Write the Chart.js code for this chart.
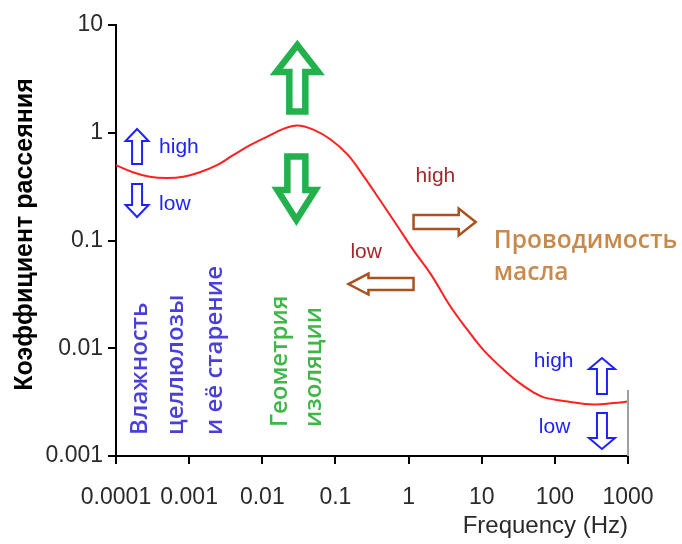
<!DOCTYPE html>
<html>
<head>
<meta charset="utf-8">
<script src="https://cdn.jsdelivr.net/npm/chart.js@4.4.1/dist/chart.umd.min.js"></script>
<style>
  body { margin: 0; background: #fff; }
  #wrap { width: 682px; height: 544px; }
</style>
</head>
<body>
<div id="wrap"><canvas id="chart" width="682" height="544"></canvas></div>
<script>
// curve (log-log)
const frequency = [0.0001, 0.00017, 0.00029, 0.0005, 0.00083, 0.0014, 0.0024, 0.004, 0.0069, 0.0117,
  0.019, 0.030, 0.050, 0.085, 0.146, 0.24, 0.41, 0.71, 1.17, 2.0,
  3.8, 6.4, 10.6, 18.2, 31, 51, 71, 150, 340, 640, 1000];
const dissipation = [0.50, 0.43, 0.39, 0.38, 0.39, 0.43, 0.50, 0.62, 0.77, 0.92,
  1.08, 1.17, 1.07, 0.87, 0.63, 0.40, 0.235, 0.135, 0.081, 0.049,
  0.024, 0.0148, 0.0096, 0.0067, 0.0049, 0.0039, 0.0035, 0.0032, 0.0030, 0.0031, 0.0032];

const xTicks = [0.0001, 0.001, 0.01, 0.1, 1, 10, 100, 1000];
const xTickLabels = ["0.0001", "0.001", "0.01", "0.1", "1", "10", "100", "1000"];
const yTicks = [0.001, 0.01, 0.1, 1, 10];
const yTickLabels = ["0.001", "0.01", "0.1", "1", "10"];

const xTitle = "Frequency (Hz)";
const yTitle = "Коэффициент рассеяния";

const BLUE = "#1f22ff";
const VIOLET = "#4a3fdc";
const GREEN = "#22b14c";
const GREEN_TEXT = "#3fb648";
const DARKRED = "#a2282e";
const BROWN = "#a9521f";
const ORANGE = "#c7894c";

// annotation arrows, ends given in data units (log10 of x / y)
const arrows = [
  { from: [-3.712, -0.290], to: [-3.712, 0.035], color: BLUE, shaft: 10, head: 23, headLen: 12, lw: 2 },
  { from: [-3.712, -0.476], to: [-3.712, -0.782], color: BLUE, shaft: 10, head: 23, headLen: 12, lw: 2 },
  { from: [-1.521, 0.197], to: [-1.521, 0.814], color: GREEN, shaft: 16, head: 42, headLen: 27, lw: 6.5 },
  { from: [-1.534, -0.220], to: [-1.534, -0.810], color: GREEN, shaft: 18, head: 38, headLen: 30, lw: 6.5 },
  { from: [0.068, -0.828], to: [0.918, -0.828], color: BROWN, shaft: 14, head: 27, headLen: 17, lw: 2.5 },
  { from: [0.068, -1.404], to: [-0.822, -1.404], color: BROWN, shaft: 12, head: 21, headLen: 20, lw: 2.5 },
  { from: [2.644, -2.425], to: [2.644, -2.090], color: BLUE, shaft: 10, head: 26, headLen: 11, lw: 2 },
  { from: [2.644, -2.601], to: [2.644, -2.935], color: BLUE, shaft: 10, head: 26, headLen: 11, lw: 2 }
];

// text notes: anchor = left end of baseline (rotated ones read bottom to top)
const notes = [
  { text: "high", at: [-3.411, -0.188], color: BLUE, font: "21px 'Liberation Sans'" },
  { text: "low", at: [-3.411, -0.717], color: BLUE, font: "21px 'Liberation Sans'" },
  { text: "high", at: [0.096, -0.457], color: DARKRED, font: "21px 'Liberation Sans'" },
  { text: "low", at: [-0.795, -1.162], color: DARKRED, font: "21px 'Liberation Sans'" },
  { text: "Проводимость", at: [1.164, -1.070], color: ORANGE, font: "600 24.5px 'Open Sans'" },
  { text: "масла", at: [1.164, -1.367], color: ORANGE, font: "600 24.5px 'Open Sans'" },
  { text: "high", at: [1.712, -2.174], color: BLUE, font: "21px 'Liberation Sans'" },
  { text: "low", at: [1.781, -2.787], color: BLUE, font: "21px 'Liberation Sans'" },
  { text: "Влажность", at: [-3.575, -2.805], color: VIOLET, font: "600 24px 'Open Sans'", rotate: true },
  { text: "целлюлозы", at: [-3.082, -2.805], color: VIOLET, font: "600 24px 'Open Sans'", rotate: true },
  { text: "и её старение", at: [-2.548, -2.805], color: VIOLET, font: "600 24px 'Open Sans'", rotate: true },
  { text: "Геометрия", at: [-1.658, -2.731], color: GREEN_TEXT, font: "600 24px 'Open Sans'", rotate: true },
  { text: "изоляции", at: [-1.192, -2.731], color: GREEN_TEXT, font: "600 24px 'Open Sans'", rotate: true }
];

function blockArrow(ctx, x0, y0, x1, y1, a) {
  const dx = x1 - x0, dy = y1 - y0;
  const len = Math.hypot(dx, dy);
  const ux = dx / len, uy = dy / len, nx = -uy, ny = ux;
  const b = len - a.headLen;
  const pt = (along, side) => [x0 + ux * along + nx * side, y0 + uy * along + ny * side];
  const pts = [
    pt(0, a.shaft / 2), pt(b, a.shaft / 2), pt(b, a.head / 2), pt(len, 0),
    pt(b, -a.head / 2), pt(b, -a.shaft / 2), pt(0, -a.shaft / 2)
  ];
  ctx.beginPath();
  pts.forEach((p, i) => (i ? ctx.lineTo(p[0], p[1]) : ctx.moveTo(p[0], p[1])));
  ctx.closePath();
  ctx.fillStyle = "#fff";
  ctx.fill();
  ctx.lineWidth = a.lw;
  ctx.lineJoin = "miter";
  ctx.strokeStyle = a.color;
  ctx.stroke();
}

const annotations = {
  id: "annotations",
  afterDatasetsDraw(chart) {
    const { ctx, scales: { x, y } } = chart;
    const px = (lx) => x.getPixelForValue(Math.pow(10, lx));
    const py = (ly) => y.getPixelForValue(Math.pow(10, ly));
    ctx.save();

    // grey stub on the right edge
    ctx.strokeStyle = "#a0a0a0";
    ctx.lineWidth = 2;
    ctx.beginPath();
    ctx.moveTo(x.right, y.getPixelForValue(0.0041));
    ctx.lineTo(x.right, y.bottom);
    ctx.stroke();

    arrows.forEach((a) => {
      blockArrow(ctx, px(a.from[0]), py(a.from[1]), px(a.to[0]), py(a.to[1]), a);
    });

    ctx.textBaseline = "alphabetic";
    ctx.textAlign = "left";
    notes.forEach((n) => {
      ctx.font = n.font;
      ctx.fillStyle = n.color;
      if (n.rotate) {
        ctx.save();
        ctx.translate(px(n.at[0]), py(n.at[1]));
        ctx.rotate(-Math.PI / 2);
        ctx.fillText(n.text, 0, 0);
        ctx.restore();
      } else {
        ctx.fillText(n.text, px(n.at[0]), py(n.at[1]));
      }
    });

    // y axis title, placed by hand to sit like the original
    ctx.font = "bold 25px 'Liberation Sans'";
    ctx.fillStyle = "#000";
    ctx.textAlign = "center";
    ctx.textBaseline = "middle";
    ctx.translate(25, (y.top + y.bottom) / 2 - 6);
    ctx.rotate(-Math.PI / 2);
    ctx.fillText(yTitle, 0, 0);
    ctx.restore();
  }
};

const tickFont = { family: "'Liberation Sans', Arial, sans-serif", size: 23 };

new Chart(document.getElementById("chart"), {
  type: "line",
  data: {
    datasets: [{
      data: frequency.map((f, i) => ({ x: f, y: dissipation[i] })),
      borderColor: "#ff2020",
      borderWidth: 2,
      pointRadius: 0,
      fill: false,
      tension: 0.4
    }]
  },
  options: {
    responsive: false,
    animation: false,
    layout: { padding: { left: 0, top: 25, right: 54, bottom: 0 } },
    plugins: { legend: { display: false }, tooltip: { enabled: false } },
    scales: {
      x: {
        type: "logarithmic",
        min: 0.0001,
        max: 1000,
        afterBuildTicks: (scale) => { scale.ticks = xTicks.map((v) => ({ value: v })); },
        afterFit: (scale) => { scale.height = 88; },
        grid: { drawOnChartArea: false, drawTicks: true, tickLength: 8, color: "#000", lineWidth: 2 },
        border: { color: "#000", width: 2 },
        ticks: {
          autoSkip: false,
          maxRotation: 0,
          padding: 20,
          color: "#2a2a2a",
          font: tickFont,
          callback: (v) => xTickLabels[xTicks.indexOf(v)]
        },
        title: {
          display: true,
          text: xTitle,
          align: "end",
          color: "#2a2a2a",
          font: { family: "'Liberation Sans', Arial, sans-serif", size: 24 },
          padding: { top: 0, bottom: 3 }
        }
      },
      y: {
        type: "logarithmic",
        min: 0.001,
        max: 10,
        afterBuildTicks: (scale) => { scale.ticks = yTicks.map((v) => ({ value: v })); },
        afterFit: (scale) => { scale.width = 116; },
        grid: { drawOnChartArea: false, drawTicks: true, tickLength: 8, color: "#000", lineWidth: 2 },
        border: { color: "#000", width: 2 },
        ticks: {
          padding: 5,
          color: "#2a2a2a",
          font: tickFont,
          callback: (v) => yTickLabels[yTicks.indexOf(v)]
        },
        title: { display: false }
      }
    }
  },
  plugins: [annotations]
});
</script>
</body>
</html>
